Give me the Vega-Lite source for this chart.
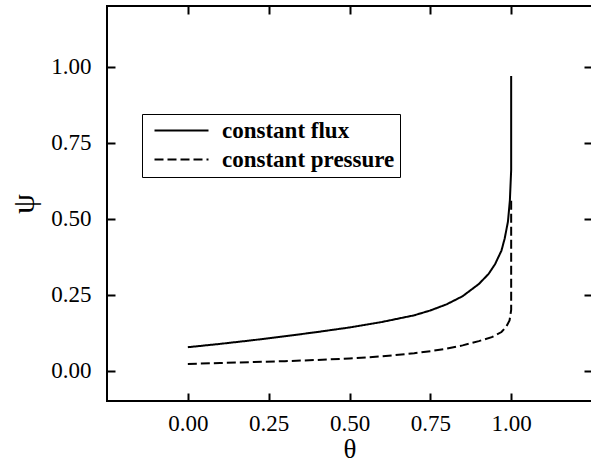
{
  "$schema": "https://vega.github.io/schema/vega-lite/v6.json",
  "width": 485,
  "height": 395,
  "autosize": {"type": "none"},
  "padding": {"left": 107, "top": 6, "right": 0, "bottom": 61},
  "background": "white",
  "config": {
    "view": {"stroke": "black", "strokeWidth": 2},
    "axis": {
      "domain": false,
      "grid": false,
      "tickColor": "black",
      "tickWidth": 2,
      "labelFont": "Liberation Serif",
      "labelFontSize": 23,
      "labelColor": "black",
      "titleFont": "Liberation Serif",
      "titleColor": "black",
      "titleFontWeight": "normal"
    }
  },
  "data": {
    "values": [
      {"series": "constant flux", "i": 0, "theta": 0.0, "psi": 0.077},
      {"series": "constant flux", "i": 1, "theta": 0.1, "psi": 0.088},
      {"series": "constant flux", "i": 2, "theta": 0.2, "psi": 0.1},
      {"series": "constant flux", "i": 3, "theta": 0.3, "psi": 0.113},
      {"series": "constant flux", "i": 4, "theta": 0.4, "psi": 0.127},
      {"series": "constant flux", "i": 5, "theta": 0.5, "psi": 0.142},
      {"series": "constant flux", "i": 6, "theta": 0.6, "psi": 0.16},
      {"series": "constant flux", "i": 7, "theta": 0.7, "psi": 0.182},
      {"series": "constant flux", "i": 8, "theta": 0.75, "psi": 0.198},
      {"series": "constant flux", "i": 9, "theta": 0.8, "psi": 0.218},
      {"series": "constant flux", "i": 10, "theta": 0.85, "psi": 0.245},
      {"series": "constant flux", "i": 11, "theta": 0.9, "psi": 0.285},
      {"series": "constant flux", "i": 12, "theta": 0.93, "psi": 0.318},
      {"series": "constant flux", "i": 13, "theta": 0.95, "psi": 0.35},
      {"series": "constant flux", "i": 14, "theta": 0.97, "psi": 0.395},
      {"series": "constant flux", "i": 15, "theta": 0.98, "psi": 0.435},
      {"series": "constant flux", "i": 16, "theta": 0.99, "psi": 0.49},
      {"series": "constant flux", "i": 17, "theta": 0.996, "psi": 0.56},
      {"series": "constant flux", "i": 18, "theta": 1.0, "psi": 0.66},
      {"series": "constant flux", "i": 19, "theta": 1.0, "psi": 0.97},
      {"series": "constant pressure", "i": 0, "theta": 0.0, "psi": 0.022},
      {"series": "constant pressure", "i": 1, "theta": 0.1, "psi": 0.025},
      {"series": "constant pressure", "i": 2, "theta": 0.2, "psi": 0.028},
      {"series": "constant pressure", "i": 3, "theta": 0.3, "psi": 0.031},
      {"series": "constant pressure", "i": 4, "theta": 0.4, "psi": 0.035},
      {"series": "constant pressure", "i": 5, "theta": 0.5, "psi": 0.04},
      {"series": "constant pressure", "i": 6, "theta": 0.6, "psi": 0.047},
      {"series": "constant pressure", "i": 7, "theta": 0.7, "psi": 0.057},
      {"series": "constant pressure", "i": 8, "theta": 0.75, "psi": 0.064},
      {"series": "constant pressure", "i": 9, "theta": 0.8, "psi": 0.072},
      {"series": "constant pressure", "i": 10, "theta": 0.85, "psi": 0.083},
      {"series": "constant pressure", "i": 11, "theta": 0.9, "psi": 0.097},
      {"series": "constant pressure", "i": 12, "theta": 0.94, "psi": 0.11},
      {"series": "constant pressure", "i": 13, "theta": 0.97, "psi": 0.127},
      {"series": "constant pressure", "i": 14, "theta": 0.985, "psi": 0.145},
      {"series": "constant pressure", "i": 15, "theta": 0.995, "psi": 0.165},
      {"series": "constant pressure", "i": 16, "theta": 1.0, "psi": 0.2},
      {"series": "constant pressure", "i": 17, "theta": 1.0, "psi": 0.56}
    ]
  },
  "layer": [
    {
      "mark": {"type": "line", "color": "black", "strokeWidth": 2, "clip": true},
      "encoding": {
        "x": {
          "field": "theta", "type": "quantitative",
          "scale": {"domain": [-0.25, 1.25], "nice": false, "zero": false},
          "axis": {
            "orient": "bottom", "title": "θ", "titleFontSize": 27,
            "values": [0, 0.25, 0.5, 0.75, 1], "format": ".2f",
            "tickSize": -8, "labelPadding": 19, "titlePadding": 1
          }
        },
        "y": {
          "field": "psi", "type": "quantitative",
          "scale": {"domain": [-0.1, 1.2], "nice": false, "zero": false},
          "axis": {
            "orient": "left", "title": "ψ", "titleFontSize": 32,
            "values": [0, 0.25, 0.5, 0.75, 1], "format": ".2f",
            "tickSize": -8, "labelPadding": 24, "titlePadding": 10
          }
        },
        "order": {"field": "i", "type": "quantitative"},
        "detail": {"field": "series"},
        "strokeDash": {
          "field": "series", "type": "nominal",
          "scale": {"domain": ["constant flux", "constant pressure"], "range": [[1, 0], [9, 4]]},
          "legend": {
            "title": null,
            "orient": "none",
            "legendX": 35,
            "legendY": 108,
            "strokeColor": "black",
            "fillColor": "white",
            "padding": 5,
            "symbolType": "M-0.4,0H5",
            "symbolSize": 400,
            "symbolStrokeWidth": 2,
            "symbolStrokeColor": "black",
            "labelFont": "Liberation Serif",
            "labelFontWeight": "bold",
            "labelFontSize": 23,
            "labelColor": "black",
            "labelOffset": 52,
            "labelLimit": 0,
            "rowPadding": 5
          }
        }
      }
    },
    {
      "mark": {"type": "point", "opacity": 0},
      "encoding": {
        "x": {
          "field": "theta", "type": "quantitative",
          "axis": {"orient": "top", "title": null, "labels": false, "values": [0, 0.25, 0.5, 0.75, 1], "tickSize": -8}
        },
        "y": {
          "field": "psi", "type": "quantitative",
          "axis": {"orient": "right", "title": null, "labels": false, "values": [0, 0.25, 0.5, 0.75, 1], "tickSize": -8}
        }
      }
    }
  ]
}
